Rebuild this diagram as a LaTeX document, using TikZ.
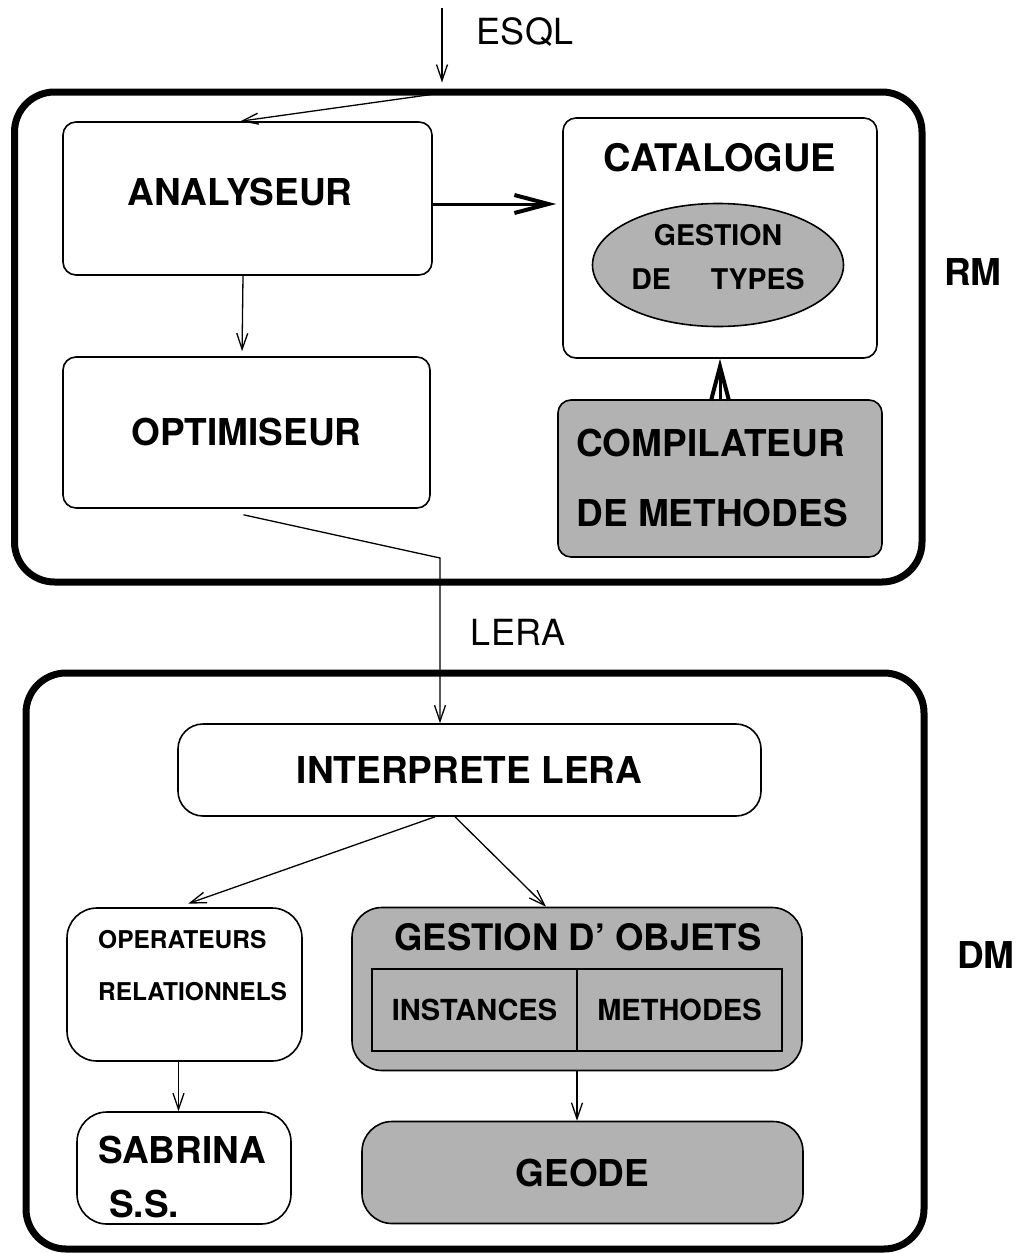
\documentclass[tikz,border=0pt]{standalone}
\usepackage{fontspec}
\setmainfont{TeX Gyre Heros}
\usetikzlibrary{arrows.meta,shapes.geometric}
\definecolor{boxgray}{gray}{0.70}
\tikzset{
  block/.style={draw, line width=1.6pt, rounded corners=13pt, inner sep=0pt,
    font=\bfseries\fontsize{37}{44}\selectfont},
  grayblock/.style={block, fill=boxgray},
  frame/.style={draw, line width=7pt, rounded corners=40pt, inner sep=0pt},
  cell/.style={draw, line width=1.6pt, inner sep=0pt, minimum width=205pt, minimum height=82pt,
    font=\bfseries\fontsize{29}{34}\selectfont},
  txt/.style={inner sep=0pt, font=\fontsize{36}{44}\selectfont},
  bold/.style={inner sep=0pt, font=\bfseries\fontsize{37}{44}\selectfont},
  link/.style={line width=1.3pt, -{Straight Barb[length=16pt,width=11pt]}},
  heavy/.style={line width=3pt, -{Straight Barb[length=34pt,width=18pt,line width=4pt]}}
}
\begin{document}
\begin{tikzpicture}[x=1pt,y=-1pt]
        \useasboundingbox (0,0) rectangle (1019,1253);

        \node[frame, minimum width=907.5pt, minimum height=490pt] (rm) at (468.25,337) {};
        \node[frame, minimum width=898pt, minimum height=576pt] (dm) at (475,961) {};

        \node[block, minimum width=369pt, minimum height=153pt, text depth=13pt] (analyseur) at (247.5,198.5) {ANALYSEUR\hspace*{15pt}};
        \node[block, minimum width=367pt, minimum height=151pt] (optimiseur) at (246.5,432.5) {OPTIMISEUR};
        \node[block, minimum width=314pt, minimum height=240pt] (catalogue) at (720,238) {};
        \node[bold, font=\bfseries\fontsize{38}{44}\selectfont] (cattitle) at (720,158) {CATALOGUE};
        \node[draw, ellipse, line width=1.6pt, fill=boxgray, inner sep=0pt, align=center, text depth=16pt,
          minimum width=251pt, minimum height=123pt, font=\bfseries\fontsize{28.5}{44}\selectfont]
          (types) at (718,265) {GESTION\\DE\hspace{1.4em}TYPES};
        \node[grayblock, minimum width=324pt, minimum height=157pt, align=left,
          font=\bfseries\fontsize{37}{70}\selectfont] (compilateur) at (720,478.5) {COMPILATEUR\\DE METHODES\hspace*{16pt}};

        \node[block, rounded corners=25pt, minimum width=583pt, minimum height=92pt] (interprete) at (469.5,770) {INTERPRETE LERA};
        \node[block, rounded corners=30pt, minimum width=235pt, minimum height=153pt] (operateurs) at (184.5,984.5) {};
        \node[inner sep=0pt, anchor=west, align=left, font=\bfseries\fontsize{24.5}{52}\selectfont]
          (optext) at (98,966) {OPERATEURS\\RELATIONNELS};
        \node[block, rounded corners=30pt, minimum width=214pt, minimum height=112pt] (sabrina) at (184,1168) {};
        \node[inner sep=0pt, anchor=west, align=left, font=\bfseries\fontsize{37}{54}\selectfont]
          (sabtext) at (98,1177) {SABRINA\\\hspace{11pt}S.S.};
        \node[grayblock, rounded corners=30pt, minimum width=450pt, minimum height=163pt] (gobjets) at (577,989) {};
        \node[inner sep=0pt, font=\bfseries\fontsize{36.5}{40}\selectfont] (gotitle) at (578,937) {GESTION D' OBJETS};
        \node[cell] (instances) at (474.5,1010) {INSTANCES};
        \node[cell] (methodes) at (679.5,1010) {METHODES};
        \node[grayblock, rounded corners=30pt, minimum width=441pt, minimum height=102pt] (geode) at (582.5,1172.5) {GEODE};

        \node[txt] (esql) at (525,32) {ESQL};
        \node[txt] (lera) at (518,632) {LERA};
        \node[bold] (rmlabel) at (973,272) {RM};
        \node[bold] (dmlabel) at (986,955) {DM};

        \coordinate (esqlin) at (442,8);
        \coordinate (esqlout) at (442,93);
        \coordinate (bend) at (440,558);

        \draw[link, shorten >=6pt] (esqlin) -- (esqlin |- rm.north);
        \draw[link] (esqlout) -- ([xshift=-7pt]analyseur.north);
        \draw[heavy, shorten >=6pt] ([yshift=-5.5pt]analyseur.east) -- ([yshift=-5.5pt]analyseur.east -| catalogue.west);
        \draw[link, shorten >=5pt] ([xshift=-4.5pt]analyseur.south) -- ([xshift=-4.5pt]optimiseur.north);
        \draw[heavy] (compilateur.north) -- (catalogue.south);
        \draw[link] ([xshift=-3pt,yshift=-6pt]optimiseur.south) -- (bend) -- (bend |- interprete.north);
        \draw[link, shorten >=11pt] ([xshift=-34.5pt]interprete.south) -- ([xshift=-6.5pt]operateurs.north);
        \draw[link] ([xshift=-14.5pt]interprete.south) -- ([xshift=-31pt]gobjets.north);
        \draw[link] ([xshift=-6pt]operateurs.south) -- ([xshift=-6pt]operateurs.south |- sabrina.north);
        \draw[link] (gobjets.south) -- (gobjets.south |- geode.north);
      \end{tikzpicture}
\end{document}
